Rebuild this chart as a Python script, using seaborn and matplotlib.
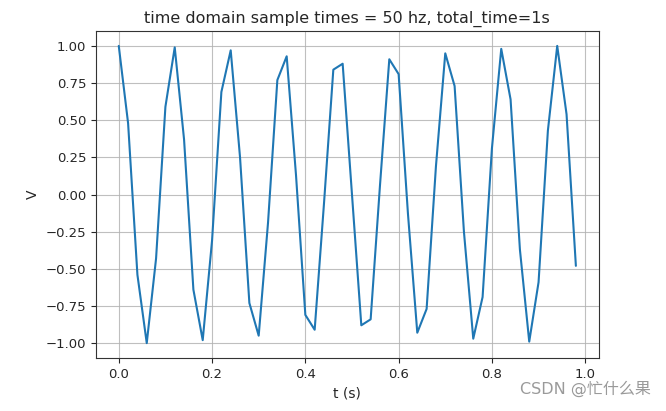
import matplotlib
matplotlib.use("Agg")
import matplotlib.pyplot as plt
import seaborn as sns
import pandas as pd

t_values = [0.00, 0.02, 0.04, 0.06, 0.08, 0.10, 0.12, 0.14, 0.16, 0.18,
            0.20, 0.22, 0.24, 0.26, 0.28, 0.30, 0.32, 0.34, 0.36, 0.38,
            0.40, 0.42, 0.44, 0.46, 0.48, 0.50, 0.52, 0.54, 0.56, 0.58,
            0.60, 0.62, 0.64, 0.66, 0.68, 0.70, 0.72, 0.74, 0.76, 0.78,
            0.80, 0.82, 0.84, 0.86, 0.88, 0.90, 0.92, 0.94, 0.96, 0.98]
v_values = [1.00, 0.48, -0.54, -1.00, -0.43, 0.59, 0.99, 0.37, -0.64, -0.98,
            -0.31, 0.69, 0.97, 0.25, -0.73, -0.95, -0.19, 0.77, 0.93, 0.13,
            -0.81, -0.91, -0.06, 0.84, 0.88, 0.00, -0.88, -0.84, 0.06, 0.91,
            0.81, -0.13, -0.93, -0.77, 0.19, 0.95, 0.73, -0.25, -0.97, -0.69,
            0.31, 0.98, 0.64, -0.37, -0.99, -0.59, 0.43, 1.00, 0.54, -0.48]

title = "time domain sample times = 50 hz, total_time=1s"
x_label = "t (s)"
y_label = "V"
watermark = "CSDN @忙什么果"

df = pd.DataFrame({"t": t_values, "V": v_values})

sns.set_style("white")
plt.rcParams['font.family'] = ['DejaVu Sans', 'Noto Sans CJK SC']

fig = plt.figure(figsize=(6.66, 4.11), dpi=100)
ax = fig.add_axes([0.144, 0.129, 0.755, 0.7955])

sns.lineplot(data=df, x="t", y="V", ax=ax, color="#1f77b4", linewidth=1.5)

ax.set_title(title, fontsize=11.5, color="#262626")
ax.set_xlabel(x_label, fontsize=10, color="#262626")
ax.set_ylabel(y_label, fontsize=10, color="#262626")
ax.set_xticks([0.0, 0.2, 0.4, 0.6, 0.8, 1.0])
ax.set_yticks([-1.0, -0.75, -0.5, -0.25, 0.0, 0.25, 0.5, 0.75, 1.0])
ax.set_yticklabels([f"{v:.2f}".replace("-", "\u2212") for v in [-1.0, -0.75, -0.5, -0.25, 0.0, 0.25, 0.5, 0.75, 1.0]])
ax.tick_params(axis="both", labelsize=9.5, colors="#262626", length=3.5, width=0.8, direction="out",
               bottom=True, left=True)
ax.grid(True, color="#b0b0b0", linewidth=0.8, alpha=0.8)
for s in ax.spines.values():
    s.set_color("#333333")
    s.set_linewidth(0.8)

fig.text(0.978, 0.035, watermark, ha="right", va="bottom", fontsize=11.5, color="#9a9a9a",
         family=['DejaVu Sans', 'Noto Sans CJK SC'])

fig.savefig("out.png", dpi=100)
